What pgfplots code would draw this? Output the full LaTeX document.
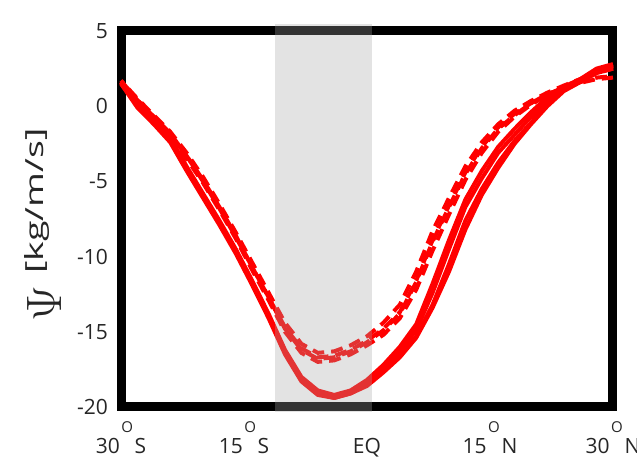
\documentclass[border=0pt]{standalone}
\usepackage{pgfplots}
\usepackage{pgfplotstable}
\pgfplotsset{compat=1.18}
\usepackage{fontspec}
\setmainfont{Open Sans}
\pgfplotstableread{
x s1 s2 s3 s4 d1 d2 d3 d4
-30 1.6 1.5 1.6 1.5 1.7 1.6 1.7 1.6
-28 0.1 0.0 0.2 -0.1 0.4 0.3 0.5 0.4
-26 -1.0 -1.1 -0.9 -1.2 -0.7 -0.8 -0.6 -0.7
-24 -2.2 -2.3 -2.1 -2.4 -1.8 -2.0 -1.7 -1.9
-22 -4.1 -4.2 -4.0 -4.3 -3.3 -3.5 -3.1 -3.3
-20 -5.9 -6.0 -5.8 -6.1 -4.9 -5.1 -4.7 -5.0
-18 -7.7 -7.8 -7.6 -7.9 -6.7 -6.9 -6.5 -6.8
-16 -9.6 -9.7 -9.5 -9.8 -8.6 -8.8 -8.4 -8.7
-14 -11.7 -11.8 -11.6 -11.9 -10.7 -10.9 -10.4 -10.7
-12 -13.9 -14.0 -13.8 -14.1 -12.7 -12.9 -12.4 -12.7
-10 -16.3 -16.4 -16.2 -16.5 -14.7 -15.0 -14.4 -14.8
-8 -18.1 -18.2 -18.0 -18.3 -16.1 -16.4 -15.8 -16.2
-6 -19.0 -19.1 -18.9 -19.2 -16.7 -17.0 -16.4 -16.8
-4 -19.3 -19.4 -19.2 -19.4 -16.6 -16.9 -16.3 -16.7
-2 -19.0 -19.1 -18.9 -19.1 -16.2 -16.5 -15.9 -16.3
0 -18.4 -18.5 -18.2 -18.6 -15.6 -15.9 -15.3 -15.7
2 -17.4 -17.6 -17.2 -17.7 -14.8 -15.2 -14.4 -14.9
4 -16.3 -16.6 -16.0 -16.7 -13.7 -14.1 -13.2 -13.8
6 -14.9 -15.3 -14.5 -15.4 -11.6 -12.2 -11.0 -11.7
8 -12.4 -13.2 -11.8 -13.4 -8.9 -9.6 -8.3 -9.0
10 -9.5 -10.5 -8.9 -11.0 -6.6 -7.2 -6.1 -6.7
12 -6.7 -7.6 -6.2 -8.2 -4.4 -4.9 -4.0 -4.5
14 -4.8 -5.5 -4.3 -5.9 -2.7 -3.1 -2.4 -2.8
16 -3.1 -3.75 -2.7 -4.1 -1.4 -1.7 -1.2 -1.5
18 -1.9 -2.3 -1.5 -2.5 -0.5 -0.7 -0.3 -0.6
20 -0.7 -1.1 -0.4 -1.2 0.2 0.1 0.35 0.2
22 0.4 0.2 0.6 0.0 0.8 0.76 0.9 0.8
24 1.2 1.1 1.3 1.0 1.2 1.27 1.37 1.2
26 1.7 1.7 1.8 1.6 1.6 1.7 1.8 1.55
28 2.4 2.3 2.5 2.2 1.9 2.2 2.3 1.8
30 2.7 2.6 2.8 2.5 2.0 2.5 2.7 1.9
}\psidata
\newcommand{\degl}[2]{#1\hspace{0.8pt}\raisebox{10.5pt}{\fontsize{7.5}{8}\selectfont O}\hspace{0.8pt}#2}
\begin{document}
\begin{tikzpicture}
\begin{axis}[
  scale only axis, width=246pt, height=188pt,
  xmin=-30, xmax=30, ymin=-20, ymax=5,
  clip=false,
  axis line style={line width=4.5pt, line cap=rect, line join=miter},
  major tick length=0pt,
  xtick={-30,-15,0,15,30},
  xticklabels={{\degl{30}{S}},{\degl{15}{S}},{EQ},{\degl{15}{N}},{\degl{30}{N}}},
  ytick={-20,-15,-10,-5,0,5},
  yticklabels={-20,-15,-10,-5,0,5},
  tick label style={font=\fontsize{10.5}{12}\selectfont, text=black!85},
  yticklabel style={xshift=-3pt},
  xticklabel style={anchor=base, yshift=-23.5pt},
  ylabel={\raisebox{-9pt}{\fontsize{29}{29}\selectfont$\Psi$}\hspace{6pt}\scalebox{1.5}[1]{\fontsize{12.5}{14}\selectfont [kg/m/s]}},
  every axis y label/.style={at={([xshift=-39pt,yshift=-3pt]rel axis cs:0,0.5)}, rotate=90, anchor=center, text=black!85},
]
\pgfplotsinvokeforeach{s1,s2,s3,s4}{
  \addplot[red, line width=2pt, line join=round] table[x=x, y=#1] {\psidata};
}
\addplot[red, line width=2pt, dash pattern=on 6pt off 3.5pt] table[x=x, y=d1] {\psidata};
\addplot[red, line width=2pt, dash pattern=on 6pt off 3.5pt, dash phase=2pt] table[x=x, y=d2] {\psidata};
\addplot[red, line width=2pt, dash pattern=on 6pt off 3.5pt, dash phase=4pt] table[x=x, y=d3] {\psidata};
\addplot[red, line width=2pt, dash pattern=on 6pt off 3.5pt, dash phase=6pt] table[x=x, y=d4] {\psidata};
\addplot[draw=none, fill=black!35, fill opacity=0.31] coordinates {(-11.2,-20.35) (0.6,-20.35) (0.6,5.45) (-11.2,5.45)} -- cycle;
\end{axis}
\pgfresetboundingbox
\path (-60.5pt,-25.5pt) rectangle (258pt,203.5pt);
\end{tikzpicture}
\end{document}
